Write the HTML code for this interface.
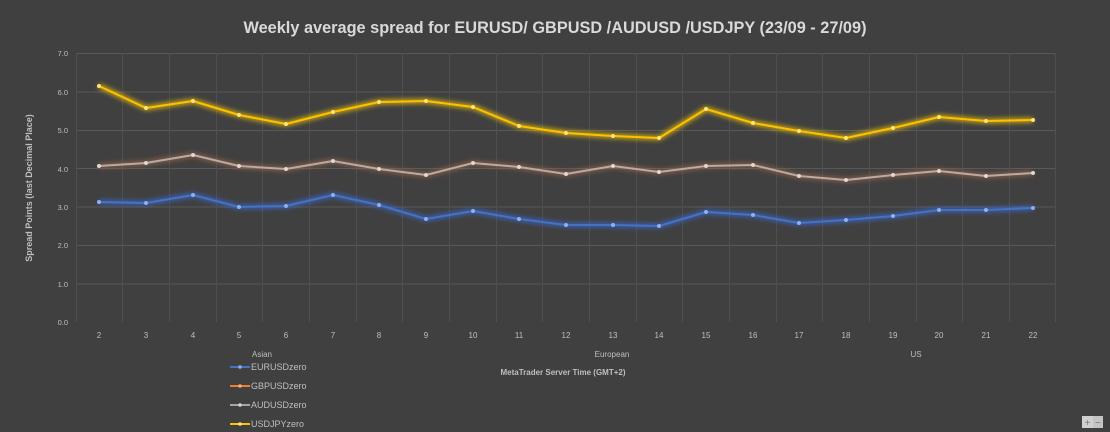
<!DOCTYPE html>
<html><head><meta charset="utf-8"><style>
body{margin:0;background:#404040;}
svg{display:block;font-family:"Liberation Sans",sans-serif;}
</style></head><body>
<svg width="1110" height="432" viewBox="0 0 1110 432">
<defs>
<filter id="g" x="-5%" y="-50%" width="110%" height="200%"><feGaussianBlur stdDeviation="2.5"/></filter>
</defs>
<rect width="1110" height="432" fill="#404040"/>
<text x="555" y="33" text-anchor="middle" fill="#d9d9d9" font-size="17" font-weight="bold" textLength="623" lengthAdjust="spacingAndGlyphs">Weekly average spread for EURUSD/ GBPUSD /AUDUSD /USDJPY (23/09 - 27/09)</text>
<g stroke="#595959" stroke-width="1">
<line x1="76" y1="53.5" x2="1055" y2="53.5"/>
<line x1="76" y1="92" x2="1055" y2="92"/>
<line x1="76" y1="130.5" x2="1055" y2="130.5"/>
<line x1="76" y1="168.5" x2="1055" y2="168.5"/>
<line x1="76" y1="207" x2="1055" y2="207"/>
<line x1="76" y1="245.5" x2="1055" y2="245.5"/>
<line x1="76" y1="284" x2="1055" y2="284"/>
</g>
<g stroke="#4f4f4f" stroke-width="1">
<line x1="76.5" y1="53" x2="76.5" y2="322"/><line x1="122.5" y1="53" x2="122.5" y2="322"/><line x1="169.5" y1="53" x2="169.5" y2="322"/><line x1="216.5" y1="53" x2="216.5" y2="322"/><line x1="262.5" y1="53" x2="262.5" y2="322"/><line x1="309.5" y1="53" x2="309.5" y2="322"/><line x1="356.5" y1="53" x2="356.5" y2="322"/><line x1="402.5" y1="53" x2="402.5" y2="322"/><line x1="449.5" y1="53" x2="449.5" y2="322"/><line x1="496.5" y1="53" x2="496.5" y2="322"/><line x1="542.5" y1="53" x2="542.5" y2="322"/><line x1="589.5" y1="53" x2="589.5" y2="322"/><line x1="636.5" y1="53" x2="636.5" y2="322"/><line x1="682.5" y1="53" x2="682.5" y2="322"/><line x1="729.5" y1="53" x2="729.5" y2="322"/><line x1="776.5" y1="53" x2="776.5" y2="322"/><line x1="822.5" y1="53" x2="822.5" y2="322"/><line x1="869.5" y1="53" x2="869.5" y2="322"/><line x1="916.5" y1="53" x2="916.5" y2="322"/><line x1="962.5" y1="53" x2="962.5" y2="322"/><line x1="1009.5" y1="53" x2="1009.5" y2="322"/><line x1="1055.5" y1="53" x2="1055.5" y2="322"/>
</g>
<g fill="#bfbfbf" font-size="7.5" text-anchor="end">
<text x="68" y="56">7.0</text><text x="68" y="95">6.0</text><text x="68" y="133">5.0</text><text x="68" y="172">4.0</text><text x="68" y="210">3.0</text><text x="68" y="248">2.0</text><text x="68" y="287">1.0</text><text x="68" y="325">0.0</text>
</g>
<text transform="translate(32,188) rotate(-90)" text-anchor="middle" fill="#bfbfbf" font-size="9" font-weight="bold">Spread Points  (last Decimal Place)</text>
<g fill="#bfbfbf" font-size="8" text-anchor="middle">
<text x="99" y="338">2</text><text x="146" y="338">3</text><text x="193" y="338">4</text><text x="239" y="338">5</text><text x="286" y="338">6</text><text x="333" y="338">7</text><text x="379" y="338">8</text><text x="426" y="338">9</text><text x="473" y="338">10</text><text x="519" y="338">11</text><text x="566" y="338">12</text><text x="613" y="338">13</text><text x="659" y="338">14</text><text x="706" y="338">15</text><text x="753" y="338">16</text><text x="799" y="338">17</text><text x="846" y="338">18</text><text x="893" y="338">19</text><text x="939" y="338">20</text><text x="986" y="338">21</text><text x="1033" y="338">22</text>
<text x="262" y="357">Asian</text><text x="612" y="357">European</text><text x="916" y="357">US</text>
</g>
<text x="563" y="375" text-anchor="middle" fill="#bfbfbf" font-size="8" font-weight="bold">MetaTrader Server Time (GMT+2)</text>

<g fill="none" stroke-width="5" filter="url(#g)" opacity="0.7">
<polyline stroke="#ffd000" points="99,86 146,108 193,101 239,115 286,124 333,112 379,102 426,101 473,107 519,126 566,133 613,136 659,138 706,109 753,123 799,131 846,138 893,128 939,117 986,121 1033,120"/>
<polyline stroke="#a06848" points="99,166 146,163 193,155 239,166 286,169 333,161 379,169 426,175 473,163 519,167 566,174 613,166 659,172 706,166 753,165 799,176 846,180 893,175 939,171 986,176 1033,173"/>
<polyline stroke="#3a6ad8" points="99,202 146,203 193,195 239,207 286,206 333,195 379,205 426,219 473,211 519,219 566,225 613,225 659,226 706,212 753,215 799,223 846,220 893,216 939,210 986,210 1033,208"/>
</g>
<g fill="none" stroke-width="2" stroke-linejoin="round">
<polyline stroke="#ffc000" points="99,86 146,108 193,101 239,115 286,124 333,112 379,102 426,101 473,107 519,126 566,133 613,136 659,138 706,109 753,123 799,131 846,138 893,128 939,117 986,121 1033,120"/>
<polyline stroke="#b8aaa4" points="99,166 146,163 193,155 239,166 286,169 333,161 379,169 426,175 473,163 519,167 566,174 613,166 659,172 706,166 753,165 799,176 846,180 893,175 939,171 986,176 1033,173"/>
<polyline stroke="#4472c4" points="99,202 146,203 193,195 239,207 286,206 333,195 379,205 426,219 473,211 519,219 566,225 613,225 659,226 706,212 753,215 799,223 846,220 893,216 939,210 986,210 1033,208"/>
</g>
<g fill="#ffe27a">
<circle cx="99" cy="86" r="2"/><circle cx="146" cy="108" r="2"/><circle cx="193" cy="101" r="2"/><circle cx="239" cy="115" r="2"/><circle cx="286" cy="124" r="2"/><circle cx="333" cy="112" r="2"/><circle cx="379" cy="102" r="2"/><circle cx="426" cy="101" r="2"/><circle cx="473" cy="107" r="2"/><circle cx="519" cy="126" r="2"/><circle cx="566" cy="133" r="2"/><circle cx="613" cy="136" r="2"/><circle cx="659" cy="138" r="2"/><circle cx="706" cy="109" r="2"/><circle cx="753" cy="123" r="2"/><circle cx="799" cy="131" r="2"/><circle cx="846" cy="138" r="2"/><circle cx="893" cy="128" r="2"/><circle cx="939" cy="117" r="2"/><circle cx="986" cy="121" r="2"/><circle cx="1033" cy="120" r="2"/>
</g>
<g fill="#e0d8d4">
<circle cx="99" cy="166" r="2"/><circle cx="146" cy="163" r="2"/><circle cx="193" cy="155" r="2"/><circle cx="239" cy="166" r="2"/><circle cx="286" cy="169" r="2"/><circle cx="333" cy="161" r="2"/><circle cx="379" cy="169" r="2"/><circle cx="426" cy="175" r="2"/><circle cx="473" cy="163" r="2"/><circle cx="519" cy="167" r="2"/><circle cx="566" cy="174" r="2"/><circle cx="613" cy="166" r="2"/><circle cx="659" cy="172" r="2"/><circle cx="706" cy="166" r="2"/><circle cx="753" cy="165" r="2"/><circle cx="799" cy="176" r="2"/><circle cx="846" cy="180" r="2"/><circle cx="893" cy="175" r="2"/><circle cx="939" cy="171" r="2"/><circle cx="986" cy="176" r="2"/><circle cx="1033" cy="173" r="2"/>
</g>
<g fill="#8fb0ec">
<circle cx="99" cy="202" r="2"/><circle cx="146" cy="203" r="2"/><circle cx="193" cy="195" r="2"/><circle cx="239" cy="207" r="2"/><circle cx="286" cy="206" r="2"/><circle cx="333" cy="195" r="2"/><circle cx="379" cy="205" r="2"/><circle cx="426" cy="219" r="2"/><circle cx="473" cy="211" r="2"/><circle cx="519" cy="219" r="2"/><circle cx="566" cy="225" r="2"/><circle cx="613" cy="225" r="2"/><circle cx="659" cy="226" r="2"/><circle cx="706" cy="212" r="2"/><circle cx="753" cy="215" r="2"/><circle cx="799" cy="223" r="2"/><circle cx="846" cy="220" r="2"/><circle cx="893" cy="216" r="2"/><circle cx="939" cy="210" r="2"/><circle cx="986" cy="210" r="2"/><circle cx="1033" cy="208" r="2"/>
</g>
<g stroke-width="2">
<line x1="230" y1="367" x2="250" y2="367" stroke="#4472c4"/><circle cx="240" cy="367" r="1.8" fill="#8fb0ec"/>
<line x1="230" y1="386" x2="250" y2="386" stroke="#ed7d31"/><circle cx="240" cy="386" r="1.8" fill="#f5a878"/>
<line x1="230" y1="405" x2="250" y2="405" stroke="#a5a5a5"/><circle cx="240" cy="405" r="1.8" fill="#d0d0d0"/>
<line x1="230" y1="424" x2="250" y2="424" stroke="#ffc000"/><circle cx="240" cy="424" r="1.8" fill="#ffe27a"/>
</g>
<g fill="#bfbfbf" font-size="9">
<text x="251" y="370">EURUSDzero</text><text x="251" y="389">GBPUSDzero</text><text x="251" y="408">AUDUSDzero</text><text x="251" y="427">USDJPYzero</text>
</g>
<rect x="1082" y="416" width="11" height="12" fill="#d0d0d0"/><rect x="1093" y="416" width="10" height="12" fill="#c4c4c4"/>
<text x="1087.5" y="426" text-anchor="middle" fill="#777" font-size="10">+</text><text x="1098" y="426" text-anchor="middle" fill="#777" font-size="10">−</text>
</svg>
</body></html>
